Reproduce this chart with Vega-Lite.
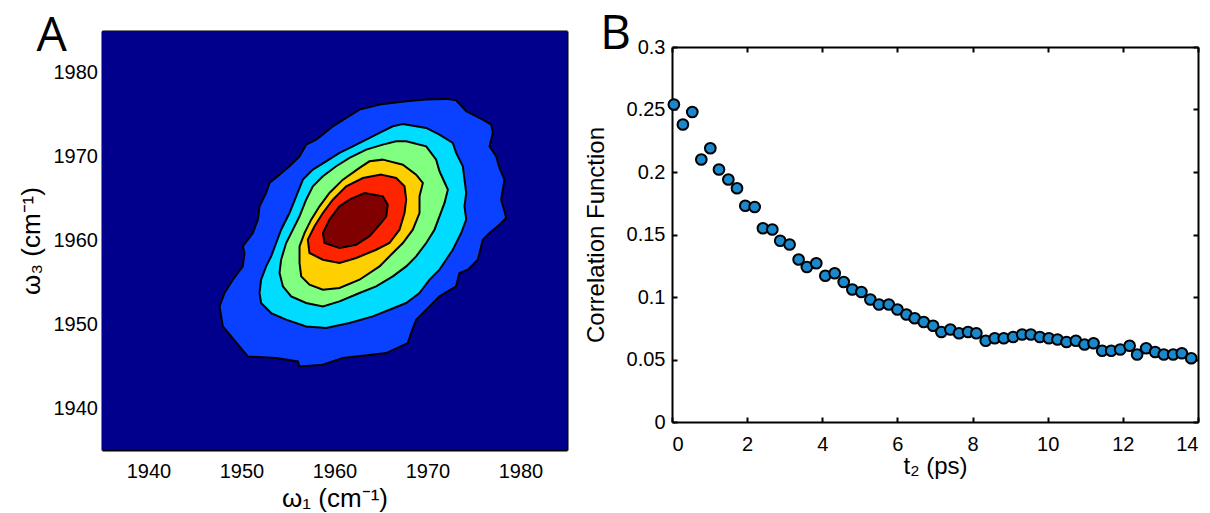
{
  "$schema": "https://vega.github.io/schema/vega-lite/v6.json",
  "padding": {"left": 18, "top": 11, "right": 5, "bottom": 0},
  "spacing": 16,
  "config": {
    "view": {"stroke": null},
    "axis": {
      "labelFont": "Liberation Sans", "labelFontSize": 20, "labelColor": "black",
      "titleFont": "Liberation Sans", "titleFontSize": 24, "titleFontWeight": "normal", "titleColor": "black",
      "domainColor": "black", "domainWidth": 2, "tickColor": "black", "tickWidth": 2, "tickSize": -5,
      "grid": false, "zindex": 1
    }
  },
  "hconcat": [
    {
      "width": 465, "height": 419,
      "title": {"text": "A", "anchor": "start", "frame": "group", "orient": "top", "font": "Open Sans", "fontSize": 48, "fontWeight": "normal", "baseline": "alphabetic", "offset": 0, "dx": -65.5, "dy": 69, "color": "black"},
      "layer": [
        {
          "data": {"values": [{"x0": 1935, "x1": 1985, "y0": 1935, "y1": 1985}]},
          "mark": {"type": "rect", "color": "#00008C"},
          "encoding": {
            "x": {"field": "x0", "type": "quantitative", "scale": {"domain": [1935, 1985], "nice": false, "zero": false}, "axis": {"orient": "top", "labels": false, "title": null, "values": [1940, 1950, 1960, 1970, 1980]}},
            "x2": {"field": "x1"},
            "y": {"field": "y0", "type": "quantitative", "scale": {"domain": [1935, 1985], "nice": false, "zero": false}, "axis": {"orient": "right", "labels": false, "title": null, "values": [1940, 1950, 1960, 1970, 1980]}},
            "y2": {"field": "y1"}
          }
        },
        {
          "data": {"values": [
            {"l":1,"i":0,"x":1972.00,"y":1976.90},{"l":1,"i":1,"x":1973.08,"y":1976.74},{"l":1,"i":2,"x":1974.16,"y":1975.42},{"l":1,"i":3,"x":1975.95,"y":1974.43},{"l":1,"i":4,"x":1976.85,"y":1973.83},{"l":1,"i":5,"x":1977.03,"y":1972.84},{"l":1,"i":6,"x":1976.67,"y":1971.24},{"l":1,"i":7,"x":1977.38,"y":1970.05},{"l":1,"i":8,"x":1977.74,"y":1968.66},{"l":1,"i":9,"x":1978.28,"y":1967.26},{"l":1,"i":10,"x":1978.10,"y":1966.07},{"l":1,"i":11,"x":1977.92,"y":1964.87},{"l":1,"i":12,"x":1978.28,"y":1963.48},{"l":1,"i":13,"x":1978.46,"y":1962.69},{"l":1,"i":14,"x":1977.56,"y":1961.69},{"l":1,"i":15,"x":1976.67,"y":1960.89},{"l":1,"i":16,"x":1975.95,"y":1960.10},{"l":1,"i":17,"x":1975.41,"y":1957.71},{"l":1,"i":18,"x":1974.34,"y":1956.52},{"l":1,"i":19,"x":1973.44,"y":1956.12},{"l":1,"i":20,"x":1973.08,"y":1954.53},{"l":1,"i":21,"x":1971.29,"y":1953.33},{"l":1,"i":22,"x":1970.22,"y":1952.14},{"l":1,"i":23,"x":1968.78,"y":1950.55},{"l":1,"i":24,"x":1968.24,"y":1948.95},{"l":1,"i":25,"x":1967.88,"y":1947.76},{"l":1,"i":26,"x":1965.56,"y":1946.57},{"l":1,"i":27,"x":1963.05,"y":1946.25},{"l":1,"i":28,"x":1960.90,"y":1945.97},{"l":1,"i":29,"x":1958.75,"y":1945.17},{"l":1,"i":30,"x":1956.24,"y":1944.97},{"l":1,"i":31,"x":1956.06,"y":1945.57},{"l":1,"i":32,"x":1953.73,"y":1945.97},{"l":1,"i":33,"x":1950.68,"y":1946.17},{"l":1,"i":34,"x":1949.78,"y":1947.36},{"l":1,"i":35,"x":1948.89,"y":1948.56},{"l":1,"i":36,"x":1947.99,"y":1949.75},{"l":1,"i":37,"x":1947.64,"y":1952.14},{"l":1,"i":38,"x":1948.17,"y":1953.73},{"l":1,"i":39,"x":1949.07,"y":1955.32},{"l":1,"i":40,"x":1950.14,"y":1956.91},{"l":1,"i":41,"x":1950.32,"y":1958.51},{"l":1,"i":42,"x":1950.14,"y":1959.30},{"l":1,"i":43,"x":1951.22,"y":1960.89},{"l":1,"i":44,"x":1951.76,"y":1962.49},{"l":1,"i":45,"x":1951.94,"y":1964.08},{"l":1,"i":46,"x":1952.65,"y":1965.67},{"l":1,"i":47,"x":1953.01,"y":1966.87},{"l":1,"i":48,"x":1954.09,"y":1967.86},{"l":1,"i":49,"x":1955.16,"y":1968.86},{"l":1,"i":50,"x":1956.24,"y":1970.05},{"l":1,"i":51,"x":1956.95,"y":1971.44},{"l":1,"i":52,"x":1958.03,"y":1972.04},{"l":1,"i":53,"x":1958.75,"y":1972.64},{"l":1,"i":54,"x":1959.82,"y":1973.63},{"l":1,"i":55,"x":1961.26,"y":1974.63},{"l":1,"i":56,"x":1962.69,"y":1975.62},{"l":1,"i":57,"x":1964.84,"y":1976.22},{"l":1,"i":58,"x":1967.71,"y":1976.62},{"l":1,"i":59,"x":1969.86,"y":1976.82},
            {"l":2,"i":0,"x":1967.35,"y":1973.91},{"l":2,"i":1,"x":1969.86,"y":1973.43},{"l":2,"i":2,"x":1971.29,"y":1972.64},{"l":2,"i":3,"x":1972.72,"y":1971.64},{"l":2,"i":4,"x":1973.08,"y":1970.45},{"l":2,"i":5,"x":1973.80,"y":1968.86},{"l":2,"i":6,"x":1973.98,"y":1967.26},{"l":2,"i":7,"x":1974.16,"y":1965.67},{"l":2,"i":8,"x":1973.98,"y":1964.08},{"l":2,"i":9,"x":1974.16,"y":1962.49},{"l":2,"i":10,"x":1973.62,"y":1960.89},{"l":2,"i":11,"x":1972.72,"y":1958.90},{"l":2,"i":12,"x":1972.00,"y":1957.71},{"l":2,"i":13,"x":1971.29,"y":1956.52},{"l":2,"i":14,"x":1970.22,"y":1955.32},{"l":2,"i":15,"x":1969.14,"y":1953.73},{"l":2,"i":16,"x":1967.71,"y":1952.54},{"l":2,"i":17,"x":1965.91,"y":1951.74},{"l":2,"i":18,"x":1964.12,"y":1950.94},{"l":2,"i":19,"x":1961.61,"y":1950.15},{"l":2,"i":20,"x":1959.10,"y":1949.55},{"l":2,"i":21,"x":1956.95,"y":1949.75},{"l":2,"i":22,"x":1954.80,"y":1950.55},{"l":2,"i":23,"x":1953.19,"y":1951.34},{"l":2,"i":24,"x":1952.11,"y":1952.54},{"l":2,"i":25,"x":1951.94,"y":1953.73},{"l":2,"i":26,"x":1952.11,"y":1955.32},{"l":2,"i":27,"x":1952.65,"y":1956.91},{"l":2,"i":28,"x":1953.19,"y":1958.11},{"l":2,"i":29,"x":1953.73,"y":1959.70},{"l":2,"i":30,"x":1954.26,"y":1961.29},{"l":2,"i":31,"x":1955.16,"y":1963.28},{"l":2,"i":32,"x":1955.88,"y":1965.27},{"l":2,"i":33,"x":1956.60,"y":1967.26},{"l":2,"i":34,"x":1957.67,"y":1968.46},{"l":2,"i":35,"x":1959.10,"y":1969.45},{"l":2,"i":36,"x":1960.54,"y":1970.45},{"l":2,"i":37,"x":1961.97,"y":1971.24},{"l":2,"i":38,"x":1963.41,"y":1972.04},{"l":2,"i":39,"x":1964.84,"y":1972.84},{"l":2,"i":40,"x":1966.27,"y":1973.63},
            {"l":3,"i":0,"x":1967.71,"y":1971.84},{"l":3,"i":1,"x":1969.86,"y":1971.24},{"l":3,"i":2,"x":1970.93,"y":1969.65},{"l":3,"i":3,"x":1971.29,"y":1968.26},{"l":3,"i":4,"x":1972.19,"y":1966.07},{"l":3,"i":5,"x":1971.83,"y":1964.48},{"l":3,"i":6,"x":1971.29,"y":1962.89},{"l":3,"i":7,"x":1970.75,"y":1961.29},{"l":3,"i":8,"x":1969.86,"y":1959.70},{"l":3,"i":9,"x":1968.78,"y":1958.11},{"l":3,"i":10,"x":1967.71,"y":1956.91},{"l":3,"i":11,"x":1966.27,"y":1955.72},{"l":3,"i":12,"x":1964.48,"y":1954.53},{"l":3,"i":13,"x":1962.69,"y":1953.73},{"l":3,"i":14,"x":1960.54,"y":1952.74},{"l":3,"i":15,"x":1958.75,"y":1952.14},{"l":3,"i":16,"x":1956.95,"y":1952.54},{"l":3,"i":17,"x":1955.34,"y":1953.33},{"l":3,"i":18,"x":1954.45,"y":1954.53},{"l":3,"i":19,"x":1954.09,"y":1956.12},{"l":3,"i":20,"x":1954.26,"y":1957.71},{"l":3,"i":21,"x":1954.80,"y":1959.70},{"l":3,"i":22,"x":1955.52,"y":1961.29},{"l":3,"i":23,"x":1956.24,"y":1962.89},{"l":3,"i":24,"x":1956.95,"y":1964.87},{"l":3,"i":25,"x":1957.67,"y":1966.47},{"l":3,"i":26,"x":1958.75,"y":1967.66},{"l":3,"i":27,"x":1960.18,"y":1968.86},{"l":3,"i":28,"x":1961.61,"y":1969.85},{"l":3,"i":29,"x":1963.41,"y":1970.85},{"l":3,"i":30,"x":1965.20,"y":1971.44},{"l":3,"i":31,"x":1966.63,"y":1971.84},
            {"l":4,"i":0,"x":1965.20,"y":1969.65},{"l":4,"i":1,"x":1967.35,"y":1969.05},{"l":4,"i":2,"x":1968.78,"y":1967.86},{"l":4,"i":3,"x":1969.50,"y":1966.87},{"l":4,"i":4,"x":1969.14,"y":1965.27},{"l":4,"i":5,"x":1969.14,"y":1963.28},{"l":4,"i":6,"x":1968.42,"y":1961.29},{"l":4,"i":7,"x":1967.35,"y":1959.70},{"l":4,"i":8,"x":1966.27,"y":1958.51},{"l":4,"i":9,"x":1964.84,"y":1956.91},{"l":4,"i":10,"x":1962.69,"y":1955.32},{"l":4,"i":11,"x":1960.54,"y":1954.33},{"l":4,"i":12,"x":1958.75,"y":1954.13},{"l":4,"i":13,"x":1957.31,"y":1954.73},{"l":4,"i":14,"x":1956.42,"y":1955.72},{"l":4,"i":15,"x":1956.24,"y":1957.31},{"l":4,"i":16,"x":1956.24,"y":1959.30},{"l":4,"i":17,"x":1956.77,"y":1960.89},{"l":4,"i":18,"x":1957.49,"y":1962.49},{"l":4,"i":19,"x":1958.39,"y":1964.08},{"l":4,"i":20,"x":1959.46,"y":1965.67},{"l":4,"i":21,"x":1960.90,"y":1967.26},{"l":4,"i":22,"x":1962.69,"y":1968.66},{"l":4,"i":23,"x":1963.76,"y":1969.45},
            {"l":5,"i":0,"x":1965.02,"y":1967.86},{"l":5,"i":1,"x":1966.63,"y":1967.46},{"l":5,"i":2,"x":1967.53,"y":1966.47},{"l":5,"i":3,"x":1967.71,"y":1964.87},{"l":5,"i":4,"x":1967.53,"y":1963.28},{"l":5,"i":5,"x":1966.99,"y":1961.29},{"l":5,"i":6,"x":1965.91,"y":1959.70},{"l":5,"i":7,"x":1964.48,"y":1958.90},{"l":5,"i":8,"x":1962.33,"y":1957.91},{"l":5,"i":9,"x":1960.54,"y":1957.31},{"l":5,"i":10,"x":1958.75,"y":1957.71},{"l":5,"i":11,"x":1957.31,"y":1958.51},{"l":5,"i":12,"x":1957.13,"y":1960.10},{"l":5,"i":13,"x":1957.85,"y":1961.69},{"l":5,"i":14,"x":1958.75,"y":1963.28},{"l":5,"i":15,"x":1959.82,"y":1964.87},{"l":5,"i":16,"x":1961.26,"y":1966.47},{"l":5,"i":17,"x":1963.05,"y":1967.46},
            {"l":6,"i":0,"x":1963.23,"y":1965.67},{"l":6,"i":1,"x":1965.20,"y":1965.27},{"l":6,"i":2,"x":1965.73,"y":1964.28},{"l":6,"i":3,"x":1965.56,"y":1962.89},{"l":6,"i":4,"x":1965.02,"y":1962.09},{"l":6,"i":5,"x":1963.76,"y":1960.50},{"l":6,"i":6,"x":1962.33,"y":1959.50},{"l":6,"i":7,"x":1960.54,"y":1959.10},{"l":6,"i":8,"x":1958.93,"y":1959.70},{"l":6,"i":9,"x":1958.75,"y":1960.89},{"l":6,"i":10,"x":1959.46,"y":1962.49},{"l":6,"i":11,"x":1960.54,"y":1964.08},{"l":6,"i":12,"x":1961.61,"y":1964.87}
          ]},
          "mark": {"type": "line", "stroke": "black", "strokeWidth": 2, "interpolate": "linear-closed"},
          "encoding": {
            "x": {"field": "x", "type": "quantitative", "axis": {"orient": "bottom", "title": "ω₁ (cm⁻¹)", "titleFontSize": 26, "format": "d", "values": [1940, 1950, 1960, 1970, 1980], "labelPadding": 16.5, "titlePadding": 4}},
            "y": {"field": "y", "type": "quantitative", "axis": {"orient": "left", "title": "ω₃ (cm⁻¹)", "titleFontSize": 26, "format": "d", "values": [1940, 1950, 1960, 1970, 1980], "labelPadding": 9.5, "titlePadding": 9}},
            "fill": {"field": "l", "type": "nominal", "scale": {"domain": [1, 2, 3, 4, 5, 6], "range": ["#0A40FF", "#00DCFF", "#80FF80", "#FFD000", "#FF2400", "#800000"]}, "legend": null},
            "order": {"field": "i", "type": "quantitative"}
          }
        }
      ],
      "resolve": {"axis": {"x": "independent", "y": "independent"}}
    },
    {
      "width": 526, "height": 391,
      "title": {"text": "B", "anchor": "start", "frame": "group", "orient": "top", "font": "Open Sans", "fontSize": 48, "fontWeight": "normal", "baseline": "alphabetic", "offset": 0, "dx": -72, "dy": 66, "color": "black"},
      "data": {"values": [
        {"t":0.05,"c":0.254},{"t":0.29,"c":0.238},{"t":0.54,"c":0.248},{"t":0.78,"c":0.210},{"t":1.02,"c":0.219},{"t":1.25,"c":0.202},{"t":1.50,"c":0.194},{"t":1.73,"c":0.187},{"t":1.95,"c":0.173},{"t":2.20,"c":0.172},{"t":2.42,"c":0.155},{"t":2.67,"c":0.154},{"t":2.88,"c":0.145},{"t":3.13,"c":0.142},{"t":3.37,"c":0.130},{"t":3.59,"c":0.124},{"t":3.84,"c":0.127},{"t":4.08,"c":0.117},{"t":4.33,"c":0.119},{"t":4.57,"c":0.112},{"t":4.80,"c":0.106},{"t":5.04,"c":0.104},{"t":5.28,"c":0.098},{"t":5.51,"c":0.094},{"t":5.77,"c":0.094},{"t":6.00,"c":0.090},{"t":6.24,"c":0.086},{"t":6.46,"c":0.083},{"t":6.70,"c":0.080},{"t":6.95,"c":0.077},{"t":7.17,"c":0.072},{"t":7.41,"c":0.074},{"t":7.64,"c":0.071},{"t":7.88,"c":0.072},{"t":8.10,"c":0.071},{"t":8.35,"c":0.065},{"t":8.59,"c":0.067},{"t":8.83,"c":0.067},{"t":9.08,"c":0.068},{"t":9.32,"c":0.070},{"t":9.55,"c":0.070},{"t":9.79,"c":0.068},{"t":10.03,"c":0.067},{"t":10.26,"c":0.066},{"t":10.50,"c":0.064},{"t":10.75,"c":0.065},{"t":10.98,"c":0.062},{"t":11.22,"c":0.063},{"t":11.45,"c":0.057},{"t":11.69,"c":0.057},{"t":11.93,"c":0.058},{"t":12.18,"c":0.061},{"t":12.38,"c":0.054},{"t":12.62,"c":0.059},{"t":12.86,"c":0.056},{"t":13.09,"c":0.054},{"t":13.34,"c":0.054},{"t":13.57,"c":0.055},{"t":13.82,"c":0.051}
      ]},
      "layer": [
        {
          "mark": {"type": "point", "opacity": 0},
          "encoding": {
            "x": {"field": "t", "type": "quantitative", "scale": {"domain": [0, 14], "nice": false, "zero": false}, "axis": {"orient": "top", "labels": false, "title": null, "offset": -16, "values": [0, 2, 4, 6, 8, 10, 12, 14]}},
            "y": {"field": "c", "type": "quantitative", "scale": {"domain": [0, 0.3], "nice": false, "zero": false, "range": [391, 16]}, "axis": {"orient": "right", "labels": false, "title": null, "values": [0, 0.05, 0.1, 0.15, 0.2, 0.25, 0.3]}}
          }
        },
        {
          "mark": {"type": "circle", "size": 115, "fill": "#1a88cc", "stroke": "black", "strokeWidth": 2, "opacity": 1},
          "encoding": {
            "x": {"field": "t", "type": "quantitative", "axis": {"orient": "bottom", "title": "t₂ (ps)", "values": [0, 2, 4, 6, 8, 10, 12, 14], "labelPadding": 17.5, "titlePadding": 0}},
            "y": {"field": "c", "type": "quantitative", "scale": {"range": [391, 16]}, "axis": {"orient": "left", "title": "Correlation Function", "format": ".2~f", "values": [0, 0.05, 0.1, 0.15, 0.2, 0.25, 0.3], "labelPadding": 12, "titlePadding": 18}}
          }
        }
      ],
      "resolve": {"axis": {"x": "independent", "y": "independent"}}
    }
  ]
}
